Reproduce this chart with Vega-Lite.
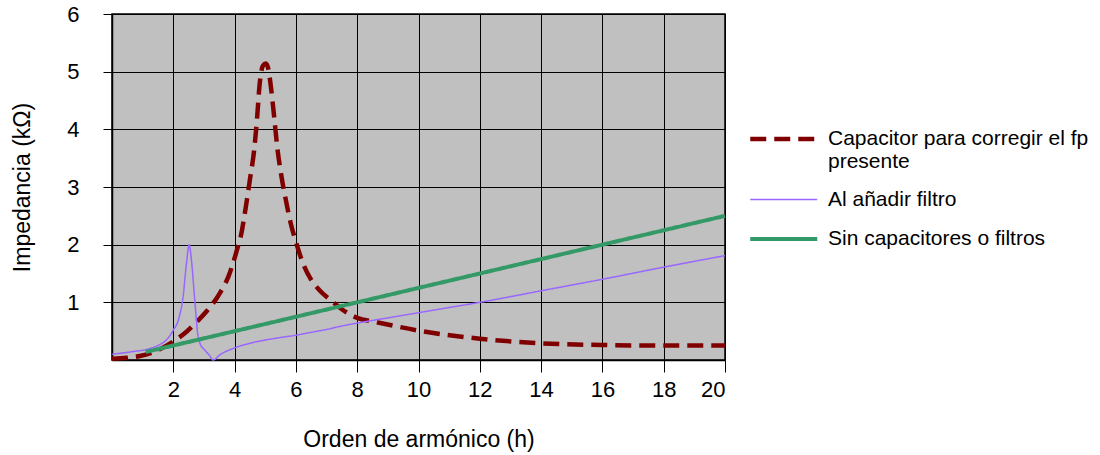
{
  "$schema": "https://vega.github.io/schema/vega-lite/v6.json",
  "width": 613,
  "height": 346,
  "autosize": {"type": "none"},
  "padding": {"left": 112, "top": 14, "right": 375, "bottom": 95},
  "background": "white",
  "config": {
    "font": "Liberation Sans",
    "view": {"fill": "#C0C0C0", "stroke": "#000000", "strokeWidth": 1.5},
    "axis": {
      "grid": true,
      "gridColor": "#000000",
      "gridOpacity": 1,
      "gridWidth": 1,
      "domainColor": "#000000",
      "domainWidth": 1.5,
      "tickColor": "#000000",
      "tickWidth": 1,
      "labelColor": "#000000",
      "labelFontSize": 22,
      "labelFont": "Liberation Sans",
      "titleFont": "Liberation Sans",
      "titleFontSize": 23,
      "titleFontWeight": "normal",
      "titleColor": "#000000"
    },
    "legend": {
      "labelFont": "Liberation Sans",
      "labelFontSize": 21,
      "labelColor": "#000000"
    }
  },
  "data": {
    "values": [
      {"s": "Capacitor para corregir el fp presente", "h": 0, "z": 0.02},
      {"s": "Capacitor para corregir el fp presente", "h": 0.5, "z": 0.04},
      {"s": "Capacitor para corregir el fp presente", "h": 0.91, "z": 0.07},
      {"s": "Capacitor para corregir el fp presente", "h": 1.5, "z": 0.17},
      {"s": "Capacitor para corregir el fp presente", "h": 2.0, "z": 0.32},
      {"s": "Capacitor para corregir el fp presente", "h": 2.43, "z": 0.49},
      {"s": "Capacitor para corregir el fp presente", "h": 2.8, "z": 0.68},
      {"s": "Capacitor para corregir el fp presente", "h": 3.08, "z": 0.84},
      {"s": "Capacitor para corregir el fp presente", "h": 3.52, "z": 1.16},
      {"s": "Capacitor para corregir el fp presente", "h": 3.8, "z": 1.45},
      {"s": "Capacitor para corregir el fp presente", "h": 3.95, "z": 1.68},
      {"s": "Capacitor para corregir el fp presente", "h": 4.11, "z": 1.97},
      {"s": "Capacitor para corregir el fp presente", "h": 4.2, "z": 2.14},
      {"s": "Capacitor para corregir el fp presente", "h": 4.35, "z": 2.6},
      {"s": "Capacitor para corregir el fp presente", "h": 4.5, "z": 3.13},
      {"s": "Capacitor para corregir el fp presente", "h": 4.64, "z": 3.65},
      {"s": "Capacitor para corregir el fp presente", "h": 4.73, "z": 4.17},
      {"s": "Capacitor para corregir el fp presente", "h": 4.82, "z": 4.8},
      {"s": "Capacitor para corregir el fp presente", "h": 4.92, "z": 5.1},
      {"s": "Capacitor para corregir el fp presente", "h": 5.02, "z": 5.14},
      {"s": "Capacitor para corregir el fp presente", "h": 5.1, "z": 5.05},
      {"s": "Capacitor para corregir el fp presente", "h": 5.17, "z": 4.8},
      {"s": "Capacitor para corregir el fp presente", "h": 5.29, "z": 4.22},
      {"s": "Capacitor para corregir el fp presente", "h": 5.39, "z": 3.7},
      {"s": "Capacitor para corregir el fp presente", "h": 5.53, "z": 3.18},
      {"s": "Capacitor para corregir el fp presente", "h": 5.67, "z": 2.78},
      {"s": "Capacitor para corregir el fp presente", "h": 5.83, "z": 2.37},
      {"s": "Capacitor para corregir el fp presente", "h": 6.0, "z": 2.05},
      {"s": "Capacitor para corregir el fp presente", "h": 6.2, "z": 1.72},
      {"s": "Capacitor para corregir el fp presente", "h": 6.5, "z": 1.39},
      {"s": "Capacitor para corregir el fp presente", "h": 6.77, "z": 1.21},
      {"s": "Capacitor para corregir el fp presente", "h": 7.2, "z": 1.01},
      {"s": "Capacitor para corregir el fp presente", "h": 7.5, "z": 0.88},
      {"s": "Capacitor para corregir el fp presente", "h": 8.0, "z": 0.73},
      {"s": "Capacitor para corregir el fp presente", "h": 8.6, "z": 0.66},
      {"s": "Capacitor para corregir el fp presente", "h": 10, "z": 0.51},
      {"s": "Capacitor para corregir el fp presente", "h": 12, "z": 0.37},
      {"s": "Capacitor para corregir el fp presente", "h": 14, "z": 0.29},
      {"s": "Capacitor para corregir el fp presente", "h": 16, "z": 0.26},
      {"s": "Capacitor para corregir el fp presente", "h": 18, "z": 0.25},
      {"s": "Capacitor para corregir el fp presente", "h": 20, "z": 0.25},
      {"s": "Al añadir filtro", "h": 0, "z": 0.1},
      {"s": "Al añadir filtro", "h": 0.6, "z": 0.14},
      {"s": "Al añadir filtro", "h": 1.24, "z": 0.2},
      {"s": "Al añadir filtro", "h": 1.6, "z": 0.28},
      {"s": "Al añadir filtro", "h": 1.78, "z": 0.35},
      {"s": "Al añadir filtro", "h": 2.0, "z": 0.52},
      {"s": "Al añadir filtro", "h": 2.18, "z": 0.72},
      {"s": "Al añadir filtro", "h": 2.32, "z": 1.1},
      {"s": "Al añadir filtro", "h": 2.43, "z": 1.68},
      {"s": "Al añadir filtro", "h": 2.52, "z": 2.0},
      {"s": "Al añadir filtro", "h": 2.59, "z": 1.74},
      {"s": "Al añadir filtro", "h": 2.7, "z": 1.04},
      {"s": "Al añadir filtro", "h": 2.81, "z": 0.4},
      {"s": "Al añadir filtro", "h": 2.87, "z": 0.29},
      {"s": "Al añadir filtro", "h": 3.03, "z": 0.17},
      {"s": "Al añadir filtro", "h": 3.18, "z": 0.08},
      {"s": "Al añadir filtro", "h": 3.3, "z": 0.0},
      {"s": "Al añadir filtro", "h": 3.52, "z": 0.09},
      {"s": "Al añadir filtro", "h": 3.95, "z": 0.2},
      {"s": "Al añadir filtro", "h": 4.5, "z": 0.29},
      {"s": "Al añadir filtro", "h": 5.04, "z": 0.35},
      {"s": "Al añadir filtro", "h": 5.5, "z": 0.39},
      {"s": "Al añadir filtro", "h": 6.0, "z": 0.43},
      {"s": "Al añadir filtro", "h": 6.5, "z": 0.48},
      {"s": "Al añadir filtro", "h": 7.0, "z": 0.53},
      {"s": "Al añadir filtro", "h": 7.5, "z": 0.59},
      {"s": "Al añadir filtro", "h": 8.0, "z": 0.64},
      {"s": "Al añadir filtro", "h": 9.0, "z": 0.73},
      {"s": "Al añadir filtro", "h": 10, "z": 0.82},
      {"s": "Al añadir filtro", "h": 11, "z": 0.91},
      {"s": "Al añadir filtro", "h": 12, "z": 1.0},
      {"s": "Al añadir filtro", "h": 14, "z": 1.2},
      {"s": "Al añadir filtro", "h": 16, "z": 1.4},
      {"s": "Al añadir filtro", "h": 18, "z": 1.61},
      {"s": "Al añadir filtro", "h": 20, "z": 1.81},
      {"s": "Sin capacitores o filtros", "h": 1.1, "z": 0.14},
      {"s": "Sin capacitores o filtros", "h": 4, "z": 0.5},
      {"s": "Sin capacitores o filtros", "h": 8, "z": 1.0},
      {"s": "Sin capacitores o filtros", "h": 12, "z": 1.5},
      {"s": "Sin capacitores o filtros", "h": 16, "z": 2.0},
      {"s": "Sin capacitores o filtros", "h": 20, "z": 2.5}
    ]
  },
  "mark": {"type": "line", "interpolate": "monotone"},
  "encoding": {
    "x": {
      "field": "h",
      "type": "quantitative",
      "scale": {"domain": [0, 20], "nice": false, "zero": false},
      "axis": {
        "values": [2, 4, 6, 8, 10, 12, 14, 16, 18, 20],
        "title": "Orden de armónico (h)",
        "tickSize": 12,
        "labelPadding": 7,
        "titlePadding": 28
      }
    },
    "y": {
      "field": "z",
      "type": "quantitative",
      "scale": {"domain": [0, 6], "nice": false},
      "axis": {
        "values": [1, 2, 3, 4, 5, 6],
        "title": "Impedancia (kΩ)",
        "tickSize": 9,
        "labelPadding": 24,
        "titlePadding": 32
      }
    },
    "color": {
      "field": "s",
      "type": "nominal",
      "scale": {
        "domain": ["Capacitor para corregir el fp presente", "Al añadir filtro", "Sin capacitores o filtros"],
        "range": ["#800000", "#9966FF", "#339966"]
      },
      "legend": {
        "title": null,
        "orient": "none",
        "legendX": 636,
        "legendY": 106,
        "symbolType": "M-1,0H3",
        "symbolSize": 1122,
        "labelOffset": 42,
        "labelLimit": 400,
        "rowPadding": 10,
        "labelExpr": "datum.label == 'Capacitor para corregir el fp presente' ? ['Capacitor para corregir el fp', 'presente'] : datum.label"
      }
    },
    "strokeDash": {
      "field": "s",
      "type": "nominal",
      "scale": {
        "domain": ["Capacitor para corregir el fp presente", "Al añadir filtro", "Sin capacitores o filtros"],
        "range": [[16, 8], [1, 0], [1, 0]]
      }
    },
    "strokeWidth": {
      "field": "s",
      "type": "nominal",
      "scale": {
        "type": "ordinal",
        "domain": ["Capacitor para corregir el fp presente", "Al añadir filtro", "Sin capacitores o filtros"],
        "range": [4.5, 1.5, 4]
      }
    }
  }
}
